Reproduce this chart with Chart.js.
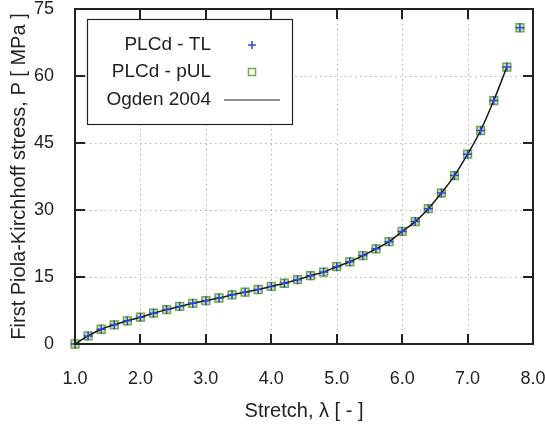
<!DOCTYPE html>
<html>
<head>
<meta charset="utf-8">
<script src="https://cdn.jsdelivr.net/npm/chart.js@4.4.1/dist/chart.umd.min.js"></script>
<style>
  html, body { margin: 0; padding: 0; background: #fff; }
  #wrap { width: 545px; height: 427px; }
</style>
</head>
<body>
<div id="wrap"><canvas id="stressChart" width="545" height="427"></canvas></div>
<script>
// stretch values of the simulation steps
const stretch = [1.0, 1.2, 1.4, 1.6, 1.8, 2.0, 2.2, 2.4, 2.6, 2.8, 3.0, 3.2, 3.4, 3.6, 3.8,
  4.0, 4.2, 4.4, 4.6, 4.8, 5.0, 5.2, 5.4, 5.6, 5.8, 6.0, 6.2, 6.4, 6.6, 6.8, 7.0, 7.2, 7.4, 7.6, 7.8];
// first Piola-Kirchhoff stress [MPa], total Lagrangian
const stressTL = [0, 1.8, 3.3, 4.3, 5.2, 6.0, 6.9, 7.7, 8.4, 9.1, 9.7, 10.3, 11.0, 11.6, 12.2,
  12.9, 13.6, 14.4, 15.3, 16.1, 17.3, 18.4, 19.8, 21.3, 22.9, 25.2, 27.4, 30.3, 33.8, 37.7, 42.5, 47.8, 54.5, 62.0, 70.8];
// same, partitioned updated Lagrangian
const stressPUL = [0, 1.8, 3.3, 4.3, 5.2, 6.0, 6.9, 7.7, 8.4, 9.1, 9.7, 10.3, 11.0, 11.6, 12.2,
  12.9, 13.6, 14.4, 15.3, 16.1, 17.3, 18.4, 19.8, 21.3, 22.9, 25.2, 27.4, 30.3, 33.8, 37.7, 42.5, 47.8, 54.5, 62.0, 70.8];
// reference curve (Ogden 2004)
const ogdenStretch = [1.0, 1.2, 1.4, 1.6, 1.8, 2.0, 2.2, 2.4, 2.6, 2.8, 3.0, 3.2, 3.4, 3.6, 3.8,
  4.0, 4.2, 4.4, 4.6, 4.8, 5.0, 5.2, 5.4, 5.6, 5.8, 6.0, 6.2, 6.4, 6.6, 6.8, 7.0, 7.2, 7.4, 7.6];
const ogdenStress = [0, 1.8, 3.3, 4.3, 5.2, 6.0, 6.9, 7.7, 8.4, 9.1, 9.7, 10.3, 11.0, 11.6, 12.2,
  12.9, 13.6, 14.4, 15.3, 16.1, 17.3, 18.4, 19.8, 21.3, 22.9, 25.2, 27.4, 30.3, 33.8, 37.7, 42.5, 47.8, 54.5, 62.0];

const xTicks = [1, 2, 3, 4, 5, 6, 7, 8];
const yTicks = [0, 15, 30, 45, 60, 75];
const seriesNames = ['PLCd - TL', 'PLCd - pUL', 'Ogden 2004'];

const FONT = '"Liberation Sans", Arial, sans-serif';
const INK = '#222';
const BLUE = '#2a48d8';
const GREEN = '#74a848';

const pts = (xs, ys) => xs.map((x, i) => ({ x: x, y: ys[i] }));

// dotted grid under the data
const gridPlugin = {
  id: 'dottedGrid',
  beforeDatasetsDraw(chart) {
    const { ctx, chartArea: a, scales } = chart;
    ctx.save();
    ctx.strokeStyle = '#b4b4b4';
    ctx.lineWidth = 1;
    ctx.setLineDash([1.5, 3.5]);
    ctx.beginPath();
    xTicks.slice(1, -1).forEach(v => {
      const px = Math.round(scales.x.getPixelForValue(v)) + 0.5;
      ctx.moveTo(px, a.top); ctx.lineTo(px, a.bottom);
    });
    yTicks.slice(1, -1).forEach(v => {
      const py = Math.round(scales.y.getPixelForValue(v)) + 0.5;
      ctx.moveTo(a.left, py); ctx.lineTo(a.right, py);
    });
    ctx.stroke();
    ctx.restore();
  }
};

// axis frame and inward ticks, filled as thin bars
const axesPlugin = {
  id: 'boxAxes',
  afterDatasetsDraw(chart) {
    const { ctx, scales } = chart;
    const l = Math.round(scales.x.getPixelForValue(xTicks[0]));
    const r = Math.round(scales.x.getPixelForValue(xTicks[xTicks.length - 1]));
    const t = Math.round(scales.y.getPixelForValue(yTicks[yTicks.length - 1]));
    const b = Math.round(scales.y.getPixelForValue(yTicks[0]));
    const w = 2, len = 10;
    ctx.save();
    ctx.fillStyle = INK;
    ctx.fillRect(l - 1, t - 1, r - l + w, w);
    ctx.fillRect(l - 1, b - 1, r - l + w, w);
    ctx.fillRect(l - 1, t - 1, w, b - t + w);
    ctx.fillRect(r - 1, t - 1, w, b - t + w);
    xTicks.forEach(v => {
      const px = Math.round(scales.x.getPixelForValue(v));
      ctx.fillRect(px - 1, b - len, w, len);
      ctx.fillRect(px - 1, t, w, len);
    });
    yTicks.forEach(v => {
      const py = Math.round(scales.y.getPixelForValue(v));
      ctx.fillRect(l, py - 1, len, w);
      ctx.fillRect(r - len, py - 1, len, w);
    });
    ctx.restore();
  }
};

// boxed legend, labels right-aligned with the symbol after them
const legendPlugin = {
  id: 'boxLegend',
  afterDraw(chart) {
    const { ctx, chartArea: a } = chart;
    const bx = a.left + 12, by = a.top + 10, bw = 205, bh = 105;
    ctx.save();
    ctx.fillStyle = '#fff';
    ctx.fillRect(bx, by, bw, bh);
    ctx.strokeStyle = INK;
    ctx.lineWidth = 1.2;
    ctx.strokeRect(bx + 0.5, by + 0.5, bw, bh);

    ctx.font = '19px ' + FONT;
    ctx.fillStyle = INK;
    ctx.textAlign = 'right';
    ctx.textBaseline = 'middle';
    const tx = bx + 124, sx = bx + 165;
    const rows = [by + 26, by + 53, by + 81];
    seriesNames.forEach((name, i) => ctx.fillText(name, tx, rows[i]));

    // cross
    ctx.strokeStyle = BLUE;
    ctx.lineWidth = 1.5;
    ctx.beginPath();
    ctx.moveTo(sx - 4, rows[0]); ctx.lineTo(sx + 4, rows[0]);
    ctx.moveTo(sx, rows[0] - 4); ctx.lineTo(sx, rows[0] + 4);
    ctx.stroke();
    // square
    ctx.strokeStyle = GREEN;
    ctx.strokeRect(sx - 3.5, rows[1] - 3.5, 7, 7);
    // line
    ctx.strokeStyle = INK;
    ctx.lineWidth = 1.2;
    ctx.beginPath();
    ctx.moveTo(sx - 28, rows[2]); ctx.lineTo(sx + 28, rows[2]);
    ctx.stroke();
    ctx.restore();
  }
};

new Chart(document.getElementById('stressChart'), {
  type: 'scatter',
  data: {
    datasets: [
      {
        label: seriesNames[0],
        data: pts(stretch, stressTL),
        pointStyle: 'cross',
        pointRadius: 4.5,
        pointBorderWidth: 1.5,
        borderColor: BLUE,
        backgroundColor: BLUE,
        showLine: false,
        order: 0
      },
      {
        label: seriesNames[2],
        data: pts(ogdenStretch, ogdenStress),
        showLine: true,
        cubicInterpolationMode: 'monotone',
        borderColor: '#1a1a1a',
        borderWidth: 1.5,
        pointRadius: 0,
        order: 1
      },
      {
        label: seriesNames[1],
        data: pts(stretch, stressPUL),
        pointStyle: 'rect',
        pointRadius: 5.5,
        pointBorderWidth: 1.5,
        borderColor: GREEN,
        backgroundColor: 'rgba(150,200,110,0.5)',
        showLine: false,
        order: 2
      }
    ]
  },
  options: {
    responsive: false,
    animation: false,
    clip: false,
    layout: { padding: { top: 9, right: 12, left: 0, bottom: 0 } },
    plugins: {
      legend: { display: false },
      tooltip: { enabled: false }
    },
    scales: {
      x: {
        type: 'linear',
        min: 1, max: 8,
        afterFit: s => { s.height = 83; s.paddingLeft = 0; s.paddingRight = 0; },
        afterBuildTicks: s => { s.ticks = xTicks.map(v => ({ value: v })); },
        grid: { display: false },
        border: { display: false },
        ticks: {
          padding: 16,
          color: INK,
          font: { family: FONT, size: 18 },
          maxRotation: 0,
          callback: v => v.toFixed(1)
        },
        title: {
          display: true,
          text: 'Stretch, λ [ - ]',
          color: INK,
          font: { family: FONT, size: 20 },
          padding: { top: 18 }
        }
      },
      y: {
        type: 'linear',
        min: 0, max: 75,
        afterFit: s => { s.width = 75; s.paddingTop = 0; s.paddingBottom = 0; },
        afterBuildTicks: s => { s.ticks = yTicks.map(v => ({ value: v })); },
        grid: { display: false },
        border: { display: false },
        ticks: {
          padding: 13,
          color: INK,
          font: { family: FONT, size: 18 }
        },
        title: {
          display: true,
          text: 'First Piola-Kirchhoff stress, P [ MPa ]',
          color: INK,
          font: { family: FONT, size: 20 },
          padding: { top: 7, bottom: 0 }
        }
      }
    }
  },
  plugins: [gridPlugin, axesPlugin, legendPlugin]
});
</script>
</body>
</html>
